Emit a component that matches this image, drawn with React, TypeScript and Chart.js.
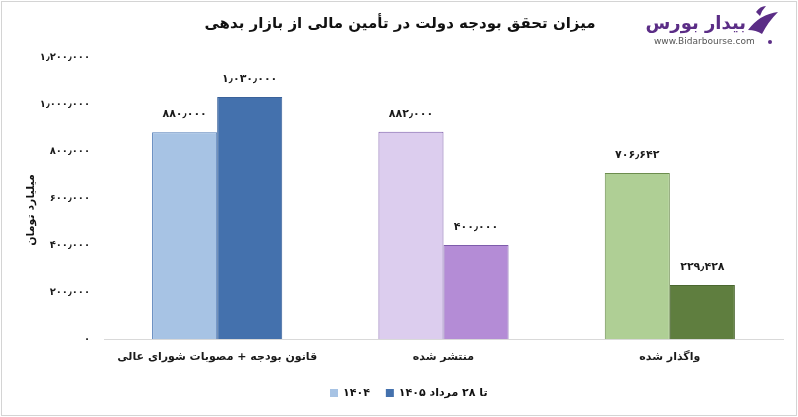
import React, { useEffect, useRef } from "react";
import { Chart, registerables } from "chart.js";

Chart.register(...registerables);

const titleText = "میزان تحقق بودجه دولت در تأمین مالی از بازار بدهی";
const yAxisTitle = "میلیارد تومان";
const categories = ["قانون بودجه + مصوبات شورای عالی", "منتشر شده", "واگذار شده"];
const seriesLabels = ["۱۴۰۴", "تا ۲۸ مرداد ۱۴۰۵"];
const values1404 = [880000, 882000, 706642];
const values1405 = [1030000, 400000, 229428];
const yMax = 1200000;
const yStep = 200000;

const colors1404 = ["#A7C3E4", "#DCCDEE", "#AFCF95"];
const borders1404 = ["#4F7BB6", "#7E5CAB", "#6C8D4E"];
const colors1405 = ["#4471AD", "#B48CD6", "#5F7E3F"];
const borders1405 = ["#3A629A", "#7E5CAB", "#4A6730"];
const legendColors = ["#A7C3E4", "#4471AD"];

const FONT = "'DejaVu Sans', sans-serif";

function toFa(n: number): string {
  const digits = "۰۱۲۳۴۵۶۷۸۹";
  return Math.round(n)
    .toLocaleString("en-US")
    .replace(/\d/g, (d) => digits[Number(d)])
    .replace(/,/g, "٫");
}

const decorPlugin = {
  id: "decor",
  beforeDraw(chart: any) {
    const ctx = chart.ctx;
    ctx.save();
    ctx.fillStyle = "#ffffff";
    ctx.fillRect(0, 0, chart.width, chart.height);
    ctx.strokeStyle = "#d4d4d4";
    ctx.lineWidth = 1;
    ctx.strokeRect(1.5, 1.5, chart.width - 3, chart.height - 3);
    ctx.restore();
  },
  afterDatasetsDraw(chart: any) {
    const ctx = chart.ctx;
    ctx.save();
    ctx.font = `bold 11px ${FONT}`;
    ctx.fillStyle = "#1a1a1a";
    ctx.textAlign = "center";
    ctx.textBaseline = "middle";
    chart.data.datasets.forEach((ds: any, di: number) => {
      const meta = chart.getDatasetMeta(di);
      meta.data.forEach((el: any, i: number) => {
        ctx.fillText(toFa(ds.data[i]), el.x, el.y - 18);
      });
    });
    ctx.restore();
  },
  afterDraw(chart: any) {
    const ctx = chart.ctx;
    ctx.save();
    // title
    ctx.direction = "rtl";
    ctx.font = `bold 15px ${FONT}`;
    ctx.fillStyle = "#111";
    ctx.textAlign = "center";
    ctx.textBaseline = "middle";
    ctx.fillText(titleText, 400, 24);

    // y axis title
    ctx.save();
    ctx.translate(31, 210);
    ctx.rotate(-Math.PI / 2);
    ctx.font = `bold 11px ${FONT}`;
    ctx.fillText(yAxisTitle, 0, 0);
    ctx.restore();

    // legend
    ctx.font = `bold 11px ${FONT}`;
    ctx.textBaseline = "middle";
    const ly = 393;
    let lx = 330;
    chart.data.datasets.forEach((ds: any, di: number) => {
      ctx.fillStyle = legendColors[di];
      ctx.fillRect(lx, ly - 4, 8, 8);
      ctx.fillStyle = "#111";
      ctx.textAlign = "left";
      const w = ctx.measureText(ds.label).width;
      ctx.fillText(ds.label, lx + 13, ly);
      lx += 13 + w + 16;
    });

    // logo
    ctx.direction = "rtl";
    ctx.fillStyle = "#5B2D86";
    ctx.font = `bold 18px ${FONT}`;
    ctx.textAlign = "right";
    ctx.textBaseline = "middle";
    ctx.fillText("بیدار بورس", 746, 24);
    ctx.direction = "ltr";
    ctx.fillStyle = "#555";
    ctx.font = `9px ${FONT}`;
    ctx.textAlign = "left";
    ctx.fillText("www.Bidarbourse.com", 654, 42);
    ctx.fillStyle = "#5B2D86";
    ctx.beginPath();
    ctx.arc(770, 42, 2, 0, Math.PI * 2);
    ctx.fill();
    // mark
    ctx.beginPath();
    ctx.moveTo(748, 30);
    ctx.quadraticCurveTo(760, 14, 778, 12);
    ctx.quadraticCurveTo(768, 22, 762, 34);
    ctx.quadraticCurveTo(756, 30, 748, 30);
    ctx.fill();
    ctx.beginPath();
    ctx.moveTo(756, 12);
    ctx.quadraticCurveTo(760, 6, 766, 6);
    ctx.quadraticCurveTo(762, 10, 760, 16);
    ctx.closePath();
    ctx.fill();
    ctx.restore();
  },
};

export default function App() {
  const ref = useRef<HTMLCanvasElement | null>(null);
  useEffect(() => {
    document.body.style.margin = "0";
    if (!ref.current) return;
    const chart = new Chart(ref.current, {
      type: "bar",
      data: {
        labels: categories,
        datasets: [
          {
            label: seriesLabels[0],
            data: values1404,
            backgroundColor: colors1404,
            borderColor: borders1404,
            borderWidth: 1,
            barPercentage: 1,
            categoryPercentage: 0.575,
          },
          {
            label: seriesLabels[1],
            data: values1405,
            backgroundColor: colors1405,
            borderColor: borders1405,
            borderWidth: 1,
            barPercentage: 1,
            categoryPercentage: 0.575,
          },
        ],
      },
      options: {
        animation: false,
        responsive: true,
        maintainAspectRatio: false,
        layout: { padding: { top: 57, right: 15, left: 0, bottom: 0 } },
        plugins: { legend: { display: false }, title: { display: false }, tooltip: { enabled: false } },
        scales: {
          x: {
            grid: { display: false, drawTicks: false },
            border: { display: true, color: "#d9d9d9", width: 1 },
            ticks: { font: { family: FONT, size: 11, weight: "bold" }, color: "#1a1a1a", padding: 12 },
            afterFit: (s: any) => {
              s.height = 78;
            },
          },
          y: {
            min: 0,
            max: yMax,
            ticks: {
              stepSize: yStep,
              callback: (v: any) => toFa(Number(v)),
              font: { family: FONT, size: 10, weight: "bold" },
              color: "#1a1a1a",
              padding: 14,
            },
            grid: { display: false, drawTicks: false },
            border: { display: false },
            afterFit: (s: any) => {
              s.width = 104;
            },
          },
        },
      },
      plugins: [decorPlugin],
    });
    return () => chart.destroy();
  }, []);
  return (
    <div style={{ position: "fixed", left: 0, top: 0, width: 798, height: 417 }}>
      <canvas ref={ref} />
    </div>
  );
}
